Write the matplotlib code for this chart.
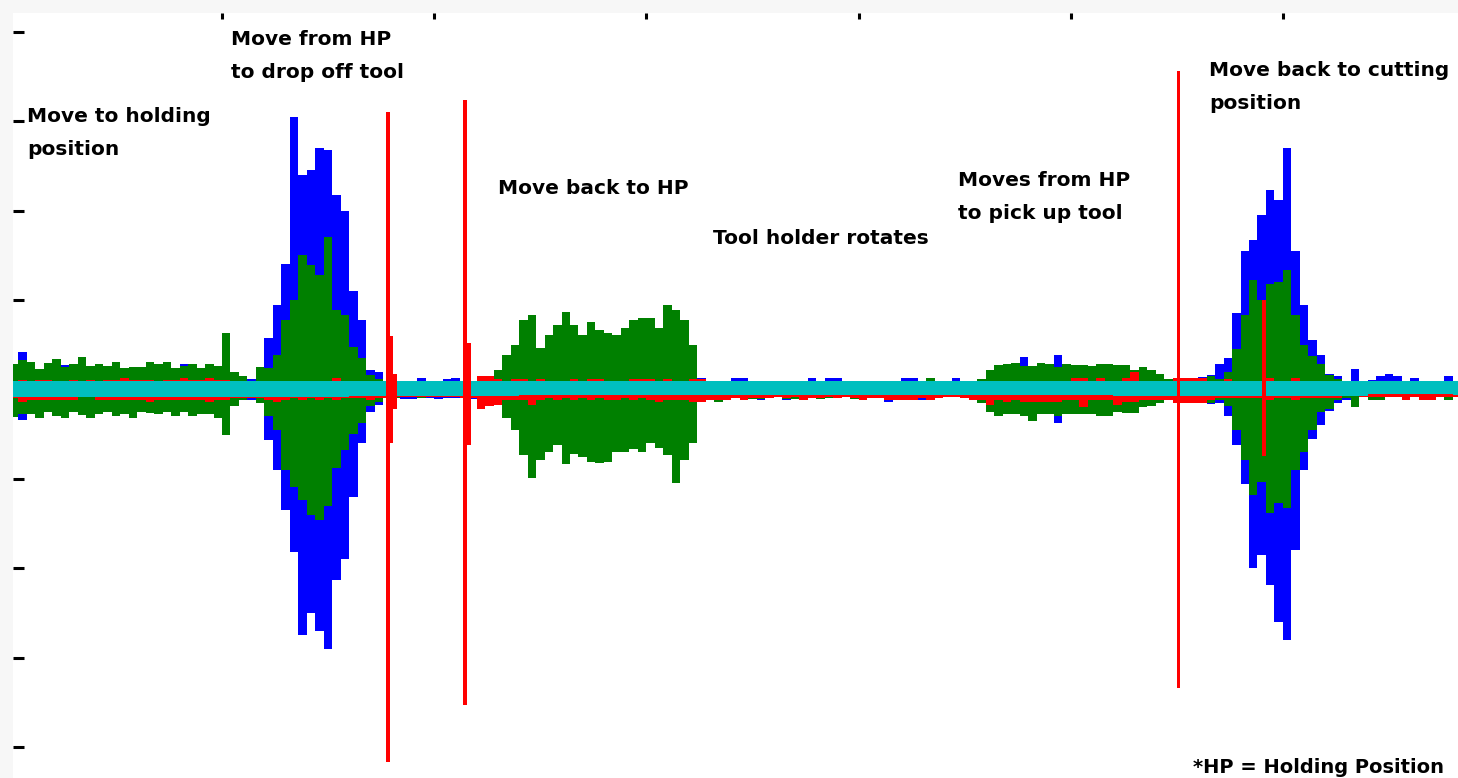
import numpy as np
import matplotlib.pyplot as plt

# sampling step of the envelope lists (seconds)
DT = 0.04

blue_hi = [0.22, 0.42, 0.24, 0.20, 0.22, 0.25, 0.27, 0.20, 0.24, 0.20, 0.22, 0.20, 0.24, 0.20, 0.20, 0.22, 0.24, 0.20, 0.22, 0.20,
           0.28, 0.22, 0.20, 0.22, 0.20, 0.30, 0.14, 0.12, 0.12,
           0.15, 0.58, 0.95, 1.40, 3.05, 2.40, 2.45, 2.70, 2.68, 2.18, 2.00, 1.10, 0.78, 0.22, 0.20,
           0.10, 0.10, 0.10, 0.10, 0.13, 0.10, 0.10, 0.12, 0.13, 0.10, 0.10, 0.12, 0.10,
           0.20, 0.25, 0.30, 0.30, 0.30, 0.30, 0.30, 0.42, 0.30, 0.30, 0.30, 0.30, 0.30, 0.30, 0.30, 0.30, 0.30, 0.30,
           0.30, 0.30, 0.30, 0.30, 0.30, 0.15, 0.13,
           0.06, 0.06, 0.06, 0.13, 0.13, 0.10, 0.06, 0.06, 0.06, 0.06, 0.06, 0.06, 0.13, 0.06, 0.13, 0.13, 0.10, 0.10,
           0.10, 0.10, 0.06, 0.06, 0.06, 0.13, 0.13, 0.06, 0.06, 0.06, 0.06, 0.13, 0.06, 0.06,
           0.10, 0.15, 0.15, 0.15, 0.15, 0.36, 0.15, 0.15, 0.15, 0.39, 0.15, 0.15, 0.15, 0.15, 0.15, 0.15, 0.15, 0.15,
           0.15, 0.15, 0.15, 0.13, 0.10,
           0.10, 0.10, 0.12, 0.14, 0.16,
           0.28, 0.35, 0.85, 1.55, 1.67, 1.95, 2.23, 2.12, 2.70, 1.55, 0.95, 0.55, 0.38, 0.17, 0.15,
           0.10, 0.23, 0.08, 0.11, 0.15, 0.17, 0.15, 0.08, 0.13, 0.08, 0.08, 0.08, 0.15, 0.08]
blue_lo = [-0.22, -0.34, -0.22, -0.20, -0.20, -0.22, -0.20, -0.22, -0.20, -0.22, -0.20, -0.22, -0.20, -0.22, -0.20, -0.20,
           -0.22, -0.20, -0.22, -0.20, -0.22, -0.20, -0.22, -0.20, -0.20, -0.30, -0.14, -0.12, -0.12,
           -0.15, -0.56, -0.90, -1.35, -1.82, -2.75, -2.50, -2.70, -2.90, -2.13, -1.90, -1.20, -0.60, -0.25, -0.17,
           -0.10, -0.10, -0.11, -0.11, -0.10, -0.09, -0.11, -0.10, -0.09, -0.10, -0.11, -0.10, -0.10,
           -0.15, -0.25, -0.40, -0.40, -0.40, -0.40, -0.40, -0.42, -0.40, -0.40, -0.40, -0.40, -0.40, -0.40, -0.40,
           -0.40, -0.40, -0.40, -0.40, -0.49, -0.40, -0.40, -0.40, -0.30, -0.12,
           -0.12, -0.12, -0.06, -0.06, -0.06, -0.06, -0.12, -0.06, -0.06, -0.12, -0.06, -0.06, -0.06, -0.06, -0.06,
           -0.06, -0.06, -0.06, -0.06, -0.06, -0.06, -0.14, -0.12, -0.06, -0.06, -0.12, -0.06, -0.06, -0.06, -0.06,
           -0.06, -0.06,
           -0.12, -0.15, -0.15, -0.15, -0.15, -0.15, -0.15, -0.15, -0.15, -0.38, -0.15, -0.15, -0.15, -0.15, -0.15,
           -0.15, -0.15, -0.15, -0.15, -0.15, -0.12, -0.10, -0.10,
           -0.10, -0.10, -0.12, -0.14, -0.16,
           -0.15, -0.30, -0.62, -1.06, -2.00, -1.85, -2.19, -2.60, -2.80, -1.80, -0.90, -0.55, -0.40, -0.24, -0.15,
           -0.12, -0.08, -0.08, -0.08, -0.08, -0.08, -0.08, -0.08, -0.08, -0.08, -0.08, -0.08, -0.08, -0.08]

green_hi = [0.29, 0.33, 0.31, 0.23, 0.30, 0.34, 0.25, 0.29, 0.36, 0.26, 0.29, 0.26, 0.31, 0.24, 0.25, 0.25, 0.31, 0.29,
            0.31, 0.24, 0.26, 0.29, 0.24, 0.29, 0.26, 0.63, 0.20, 0.15, 0.10,
            0.25, 0.24, 0.39, 0.78, 1.00, 1.50, 1.39, 1.28, 1.70, 0.89, 0.83, 0.48, 0.35, 0.16, 0.12,
            0.08, 0.08, 0.09, 0.08, 0.10, 0.08, 0.08, 0.08, 0.08, 0.08, 0.08, 0.09, 0.10,
            0.22, 0.39, 0.50, 0.78, 0.83, 0.46, 0.61, 0.72, 0.87, 0.72, 0.61, 0.75, 0.67, 0.63, 0.61, 0.69, 0.78, 0.80,
            0.80, 0.69, 0.95, 0.89, 0.78, 0.50, 0.10,
            0.06, 0.06, 0.09, 0.09, 0.09, 0.06, 0.06, 0.09, 0.09, 0.09, 0.06, 0.06, 0.09, 0.06, 0.09, 0.09, 0.09, 0.06,
            0.06, 0.06, 0.06, 0.06, 0.06, 0.06, 0.06, 0.06, 0.13, 0.06, 0.06, 0.06, 0.06, 0.10,
            0.12, 0.22, 0.27, 0.28, 0.30, 0.26, 0.26, 0.30, 0.28, 0.25, 0.29, 0.27, 0.27, 0.26, 0.28, 0.28, 0.27, 0.27,
            0.22, 0.25, 0.22, 0.17, 0.12,
            0.10, 0.10, 0.10, 0.12, 0.15,
            0.12, 0.20, 0.45, 0.83, 1.22, 1.00, 1.18, 1.20, 1.34, 0.83, 0.50, 0.37, 0.28, 0.16, 0.12,
            0.09, 0.06, 0.09, 0.06, 0.06, 0.09, 0.06, 0.06, 0.09, 0.09, 0.06, 0.09, 0.06, 0.06]
green_lo = [-0.31, -0.27, -0.27, -0.32, -0.25, -0.30, -0.32, -0.25, -0.29, -0.32, -0.27, -0.25, -0.30, -0.27, -0.32,
            -0.25, -0.26, -0.27, -0.25, -0.30, -0.25, -0.30, -0.27, -0.27, -0.32, -0.51, -0.18, -0.12, -0.10,
            -0.15, -0.30, -0.45, -0.90, -1.09, -1.24, -1.40, -1.46, -1.30, -0.88, -0.68, -0.50, -0.38, -0.18, -0.14,
            -0.08, -0.09, -0.08, -0.08, -0.09, -0.08, -0.08, -0.08, -0.08, -0.08, -0.09, -0.10, -0.12,
            -0.16, -0.32, -0.45, -0.73, -0.99, -0.79, -0.70, -0.62, -0.83, -0.72, -0.76, -0.81, -0.82, -0.81, -0.70,
            -0.70, -0.67, -0.70, -0.60, -0.66, -0.73, -1.05, -0.79, -0.60, -0.10,
            -0.10, -0.14, -0.06, -0.10, -0.10, -0.11, -0.11, -0.06, -0.06, -0.11, -0.11, -0.06, -0.06, -0.11, -0.10,
            -0.06, -0.06, -0.11, -0.11, -0.06, -0.06, -0.06, -0.06, -0.06, -0.06, -0.06, -0.11, -0.06, -0.06, -0.06,
            -0.06, -0.10,
            -0.15, -0.25, -0.30, -0.28, -0.27, -0.30, -0.35, -0.28, -0.28, -0.30, -0.28, -0.27, -0.27, -0.28, -0.30,
            -0.30, -0.25, -0.26, -0.26, -0.20, -0.18, -0.15, -0.10,
            -0.10, -0.10, -0.12, -0.12, -0.15,
            -0.12, -0.18, -0.45, -0.79, -1.18, -1.03, -1.38, -1.27, -1.33, -0.90, -0.70, -0.45, -0.25, -0.22, -0.12,
            -0.10, -0.20, -0.06, -0.12, -0.12, -0.06, -0.06, -0.06, -0.06, -0.06, -0.06, -0.06, -0.12, -0.06]

red_hi = [0.09, 0.11, 0.09, 0.11, 0.11, 0.09, 0.09, 0.11, 0.09, 0.11, 0.09, 0.11, 0.11, 0.13, 0.11, 0.11, 0.11, 0.09,
          0.11, 0.11, 0.13, 0.11, 0.11, 0.13, 0.11, 0.11, 0.09, 0.09,
          0.09, 0.09, 0.09, 0.09, 0.09, 0.09, 0.09, 0.09, 0.09, 0.09, 0.13, 0.09, 0.09, 0.09, 0.09, 0.09,
          0.09, 0.09, 0.09, 0.07, 0.07, 0.07, 0.07, 0.09, 0.09, 0.09, 0.09, 0.15, 0.15,
          0.12, 0.10, 0.12, 0.12, 0.10, 0.12, 0.10, 0.10, 0.10, 0.12, 0.10, 0.12, 0.12, 0.10, 0.10, 0.10, 0.12, 0.12,
          0.12, 0.10, 0.12, 0.10, 0.10, 0.12, 0.12,
          0.10, 0.10, 0.09, 0.09, 0.09, 0.10, 0.09, 0.09, 0.09, 0.09, 0.09, 0.10, 0.09, 0.09, 0.10, 0.10, 0.09, 0.10,
          0.10, 0.09, 0.09, 0.09, 0.09, 0.09, 0.10, 0.09, 0.09, 0.09, 0.09, 0.09, 0.09, 0.10,
          0.10, 0.10, 0.10, 0.10, 0.10, 0.10, 0.10, 0.10, 0.10, 0.10, 0.10, 0.13, 0.13, 0.10, 0.13, 0.10, 0.10, 0.13,
          0.20, 0.10, 0.10, 0.10, 0.10,
          0.13, 0.13, 0.13, 0.13, 0.10,
          0.10, 0.12, 0.10, 0.10, 0.10, 0.10, 0.13, 0.10, 0.10, 0.13, 0.10, 0.10, 0.10, 0.10, 0.10,
          0.09, 0.09, 0.09, 0.09, 0.10, 0.09, 0.09, 0.10, 0.09, 0.10, 0.09, 0.09, 0.09, 0.09]
red_lo = [-0.09, -0.14, -0.12, -0.12, -0.12, -0.12, -0.12, -0.12, -0.07, -0.07, -0.12, -0.12, -0.12, -0.12, -0.12,
          -0.12, -0.14, -0.12, -0.12, -0.12, -0.12, -0.12, -0.12, -0.14, -0.12, -0.12, -0.09, -0.09,
          -0.10, -0.10, -0.12, -0.14, -0.12, -0.10, -0.12, -0.10, -0.12, -0.10, -0.12, -0.10, -0.10, -0.10, -0.12,
          -0.10,
          -0.10, -0.08, -0.08, -0.08, -0.08, -0.08, -0.08, -0.08, -0.08, -0.10, -0.10, -0.22, -0.18,
          -0.17, -0.12, -0.12, -0.12, -0.17, -0.12, -0.10, -0.12, -0.10, -0.12, -0.10, -0.12, -0.10, -0.12, -0.12,
          -0.10, -0.12, -0.10, -0.12, -0.14, -0.12, -0.12, -0.12, -0.14, -0.14,
          -0.12, -0.12, -0.12, -0.10, -0.12, -0.10, -0.10, -0.10, -0.08, -0.10, -0.08, -0.12, -0.10, -0.10, -0.08,
          -0.10, -0.08, -0.10, -0.12, -0.10, -0.10, -0.12, -0.12, -0.12, -0.12, -0.10, -0.12, -0.10, -0.08, -0.08,
          -0.10, -0.12,
          -0.12, -0.17, -0.12, -0.14, -0.12, -0.14, -0.14, -0.14, -0.14, -0.14, -0.12, -0.12, -0.20, -0.12, -0.12,
          -0.12, -0.17, -0.14, -0.14, -0.12, -0.12, -0.12, -0.12,
          -0.15, -0.15, -0.15, -0.15, -0.12,
          -0.10, -0.10, -0.10, -0.10, -0.10, -0.10, -0.12, -0.10, -0.10, -0.12, -0.10, -0.10, -0.10, -0.10, -0.10,
          -0.07, -0.07, -0.08, -0.08, -0.08, -0.08, -0.08, -0.12, -0.08, -0.12, -0.12, -0.08, -0.08, -0.08]

# tall single red strokes (start time, top, bottom)
spike_t = [1.773, 1.789, 1.806, 2.136, 2.155, 5.500, 5.901]
spike_hi = [3.10, 0.60, 0.17, 3.24, 0.52, 3.56, 1.00]
spike_lo = [-4.17, -0.60, -0.22, -3.53, -0.62, -3.34, -0.74]
SPIKE_W = 0.017

# cyan channel, coarser step
CYAN_DT = 0.4
cyan_hi = [0.095, 0.095, 0.095, 0.10, 0.095, 0.095, 0.10, 0.10, 0.095, 0.095, 0.095, 0.095, 0.095, 0.095, 0.095,
           0.095, 0.095, 0.095]
cyan_lo = [-0.08, -0.08, -0.08, -0.08, -0.075, -0.075, -0.065, -0.065, -0.065, -0.065, -0.065, -0.065, -0.065,
           -0.075, -0.075, -0.075, -0.05, -0.065]

labels = ["Move to holding\nposition", "Move from HP\nto drop off tool", "Move back to HP",
          "Tool holder rotates", "Moves from HP\nto pick up tool", "Move back to cutting\nposition",
          "*HP = Holding Position"]
# pixel position of the baseline of the last line of each label
label_px = [(27, 155), (231, 78), (498, 194), (713, 244), (958, 219), (1209, 109), (1193, 773)]

W, H = 1458, 778
fig = plt.figure(figsize=(W / 100, H / 100), dpi=100, facecolor='#f7f7f7')
ax = fig.add_axes([13 / W, 0, (W - 13) / W, (H - 13) / H])
ax.set_facecolor('white')


def band(x, hi, lo, w, color):
    hi = np.asarray(hi)
    lo = np.asarray(lo)
    ax.bar(x, hi - lo, bottom=lo, width=w, align='edge', color=color,
           linewidth=0, antialiased=False)


t = np.arange(len(blue_hi)) * DT
band(t, blue_hi, blue_lo, DT, '#0000ff')
band(t, green_hi, green_lo, DT, '#008000')
band(t, red_hi, red_lo, DT, '#ff0000')
band(np.arange(len(cyan_hi)) * CYAN_DT, cyan_hi, cyan_lo, CYAN_DT, '#00bfbf')
band(spike_t, spike_hi, spike_lo, SPIKE_W, '#ff0000')

ax.set_xlim(0.015, 6.825)
ax.set_ylim(-4.346, 4.211)
for s in ax.spines.values():
    s.set_visible(False)
ax.set_xticks([1, 2, 3, 4, 5, 6])
ax.set_yticks([-4, -3, -2, -1, 1, 2, 3, 4])
ax.xaxis.tick_top()
ax.tick_params(axis='x', direction='in', length=4.3, width=2.2, labeltop=False, labelbottom=False)
ax.tick_params(axis='y', direction='in', length=8, width=2.2, labelleft=False)

for txt, (px, py) in zip(labels, label_px):
    size = 14.5 if txt[0] != '*' else 14
    fig.text(px / W, 1 - py / H, txt, ha='left', va='baseline', fontsize=size,
             fontweight='bold', family='DejaVu Sans', linespacing=1.92)

fig.savefig('out.png', dpi=100, facecolor=fig.get_facecolor())
